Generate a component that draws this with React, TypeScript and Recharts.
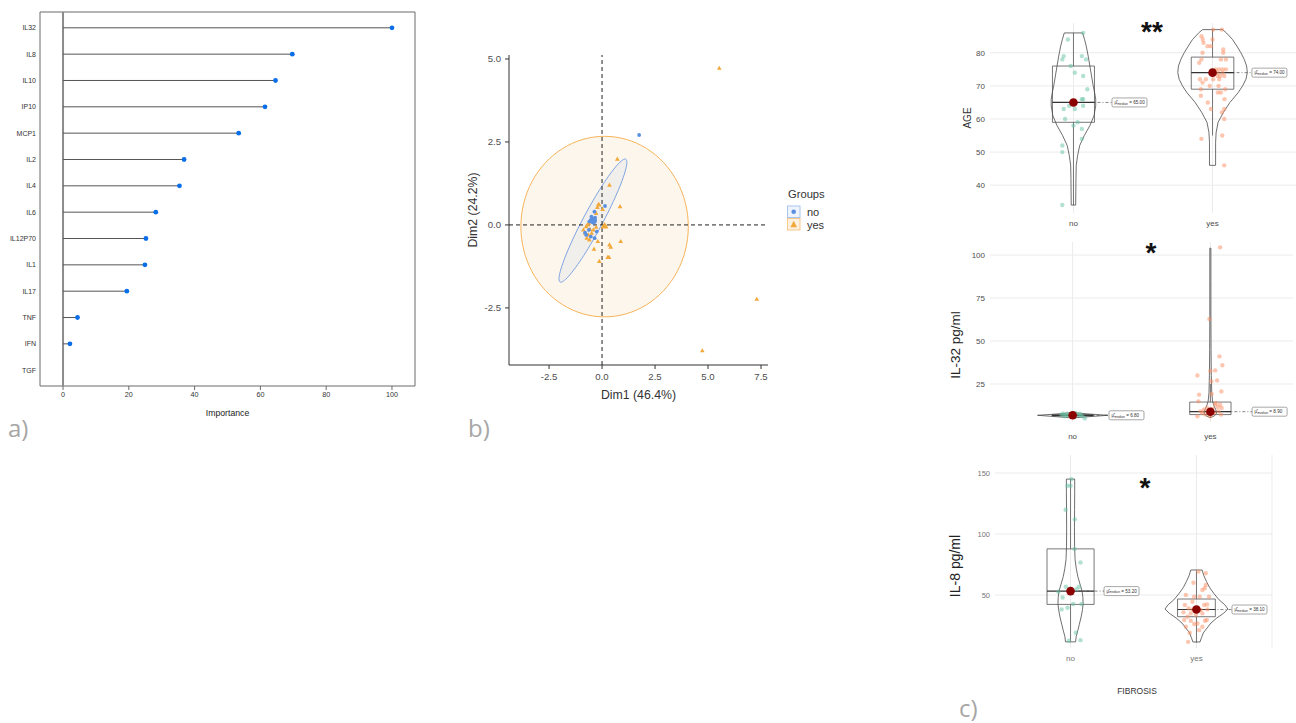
import React from 'react';
import { ComposedChart, Scatter, XAxis, YAxis, CartesianGrid, ReferenceLine, ReferenceArea, ReferenceDot } from 'recharts';

// a) variable importance
const features = ['IL32', 'IL8', 'IL10', 'IP10', 'MCP1', 'IL2', 'IL4', 'IL6', 'IL12P70', 'IL1', 'IL17', 'TNF', 'IFN', 'TGF'];
const importance = [100, 69.7, 64.6, 61.4, 53.4, 36.8, 35.4, 28.2, 25.2, 24.9, 19.4, 4.4, 2.1, 0];
const importanceTicks = [0, 20, 40, 60, 80, 100];

// b) PCA individuals
const pcaNo = [
  { x: 1.75, y: 2.71 }, { x: 0.14, y: 0.57 }, { x: -0.36, y: 0.4 }, { x: -0.44, y: 0.13 }, { x: -0.53, y: 0.15 },
  { x: -0.41, y: 0.07 }, { x: -0.6, y: 0.1 }, { x: -0.33, y: 0.22 }, { x: -0.5, y: 0.25 }, { x: -0.8, y: -0.23 },
  { x: -0.75, y: -0.3 }, { x: -0.53, y: -0.35 }, { x: -0.25, y: -0.2 }, { x: -0.35, y: -0.4 }, { x: -0.62, y: -0.15 },
];
const pcaYes = [
  { x: 5.53, y: 4.72 }, { x: 7.3, y: -2.24 }, { x: 4.73, y: -3.79 }, { x: 0.72, y: 1.98 }, { x: 0.35, y: 1.2 },
  { x: 0.85, y: 0.55 }, { x: 0.88, y: -0.5 }, { x: -0.38, y: -0.73 }, { x: -0.13, y: -1.1 }, { x: 0.27, y: -0.98 },
  { x: 0.33, y: -0.98 }, { x: 0.35, y: -0.6 }, { x: 0.41, y: -0.67 }, { x: -0.2, y: -0.5 }, { x: -0.13, y: 0.6 },
  { x: -0.22, y: 0.53 }, { x: -0.28, y: 0.35 }, { x: 0.03, y: 0.47 }, { x: -0.17, y: 0.62 }, { x: 0.11, y: -0.03 },
  { x: 0.05, y: -0.05 }, { x: 0.18, y: -0.05 }, { x: -0.75, y: -0.05 }, { x: -0.69, y: 0.0 }, { x: -0.88, y: -0.15 },
  { x: -0.8, y: -0.25 }, { x: -0.72, y: -0.4 }, { x: -0.65, y: -0.3 }, { x: -0.57, y: -0.13 }, { x: -0.49, y: -0.25 },
  { x: -0.41, y: -0.15 }, { x: -0.28, y: -0.07 }, { x: -0.62, y: 0.05 }, { x: -0.6, y: -0.45 },
];
const pcaNoMean = [{ x: -0.41, y: 0.13 }];
const pcaYesMean = [{ x: 0.12, y: -0.03 }];
// ellipse: centre, end of first semi-axis, end of second semi-axis
const ellipseNo = [{ x: -0.43, y: 0.13 }, { x: 1.12, y: 1.98 }, { x: -0.03, y: -0.01 }];
const ellipseYes = [{ x: 0.12, y: -0.05 }, { x: 4.07, y: -0.05 }, { x: 0.12, y: 2.67 }];
const dimDomainX = [-4.39, 7.83];
const dimDomainY = [-4.22, 5.12];
const dimTicksX = [-2.5, 0, 2.5, 5, 7.5];
const dimTicksY = [-2.5, 0, 2.5, 5];

// c) violins, FIBROSIS groups
const groups = ['no', 'yes'];

// box stats: [lower whisker, q1, median, q3, upper whisker]
const ageBoxes = [[34, 59, 65, 76, 86], [55, 69, 74, 78.7, 87]];
const ageViolinNo = [[34, 0.016], [38, 0.017], [42, 0.018], [46, 0.02], [49, 0.03], [52, 0.045], [55, 0.078], [58, 0.118], [61, 0.148], [64, 0.16], [66, 0.16], [68, 0.152], [70, 0.142], [73, 0.13], [76, 0.118], [79, 0.106], [82, 0.092], [84, 0.08], [86, 0.066]];
const ageViolinYes = [[46, 0.022], [50, 0.022], [53, 0.022], [56, 0.026], [59, 0.04], [62, 0.078], [65, 0.125], [68, 0.185], [70, 0.216], [72, 0.24], [74, 0.25], [76, 0.245], [78, 0.228], [80, 0.204], [82, 0.175], [84, 0.144], [86, 0.1], [87, 0.072]];
const agePointsNo = [
  { x: 1.07, y: 86 }, { x: 0.96, y: 84 }, { x: 0.93, y: 79 }, { x: 0.92, y: 78 }, { x: 1.06, y: 79 }, { x: 1.09, y: 78 },
  { x: 0.98, y: 76 }, { x: 1.01, y: 74 }, { x: 1.07, y: 73 }, { x: 1.1, y: 69 }, { x: 1.06, y: 66 }, { x: 1.07, y: 66 },
  { x: 0.97, y: 64 }, { x: 0.93, y: 63 }, { x: 1.01, y: 63 }, { x: 1.07, y: 64 }, { x: 0.94, y: 60 }, { x: 1.03, y: 59 },
  { x: 1.0, y: 58 }, { x: 1.06, y: 57 }, { x: 1.06, y: 54 }, { x: 0.92, y: 52 }, { x: 0.92, y: 50 }, { x: 0.92, y: 34 },
];
const agePointsYes = [
  { x: 2.005, y: 87 }, { x: 2.067, y: 87 }, { x: 1.92, y: 85 }, { x: 1.93, y: 84 }, { x: 2.0, y: 84 }, { x: 1.935, y: 83 },
  { x: 1.964, y: 82 }, { x: 1.988, y: 82 }, { x: 2.077, y: 81 }, { x: 2.077, y: 80 }, { x: 1.928, y: 80 }, { x: 1.92, y: 78 },
  { x: 1.904, y: 77 }, { x: 2.06, y: 78 }, { x: 2.096, y: 78 }, { x: 2.024, y: 75 }, { x: 2.048, y: 75 }, { x: 2.072, y: 75 },
  { x: 2.096, y: 75 }, { x: 2.036, y: 74 }, { x: 2.072, y: 74 }, { x: 2.036, y: 73 }, { x: 2.055, y: 73 }, { x: 2.084, y: 73 },
  { x: 1.909, y: 72 }, { x: 1.952, y: 72 }, { x: 2.005, y: 72 }, { x: 2.048, y: 72 }, { x: 1.928, y: 71 }, { x: 1.98, y: 70 },
  { x: 2.043, y: 70 }, { x: 1.916, y: 69 }, { x: 2.091, y: 69 }, { x: 2.038, y: 68 }, { x: 2.06, y: 68 }, { x: 1.916, y: 67 },
  { x: 2.086, y: 66 }, { x: 1.966, y: 65 }, { x: 1.988, y: 63 }, { x: 2.084, y: 63 }, { x: 2.067, y: 62 }, { x: 2.084, y: 60 },
  { x: 2.07, y: 55 }, { x: 1.92, y: 54 }, { x: 2.084, y: 46 },
];

const il32Boxes = [[5.6, 6.4, 6.8, 7.3, 8.0], [5.5, 7.2, 8.9, 14.5, 25]];
const il32ViolinNo = [[5.3, 0.01], [6.0, 0.12], [6.8, 0.255], [7.5, 0.12], [8.3, 0.01]];
const il32ViolinYes = [[5.5, 0.004], [6.5, 0.03], [8, 0.045], [10, 0.04], [12, 0.028], [15, 0.016], [20, 0.01], [30, 0.007], [45, 0.005], [65, 0.004], [85, 0.004], [104, 0.004]];
const il32PointsNo = [
  { x: 0.918, y: 7.2 }, { x: 0.941, y: 6.2 }, { x: 0.958, y: 7.8 }, { x: 0.976, y: 6.6 }, { x: 1.019, y: 8.1 },
  { x: 1.035, y: 7.0 }, { x: 1.052, y: 7.8 }, { x: 1.071, y: 6.2 }, { x: 1.089, y: 5.0 }, { x: 1.012, y: 5.8 },
  { x: 0.988, y: 7.4 }, { x: 0.929, y: 7.8 }, { x: 1.06, y: 6.8 }, { x: 0.95, y: 6.7 },
];
const il32PointsYes = [
  { x: 2.071, y: 104.5 }, { x: 1.993, y: 62.8 }, { x: 2.066, y: 41.1 }, { x: 2.087, y: 35.9 }, { x: 1.906, y: 30 },
  { x: 2.035, y: 32.9 }, { x: 2.0, y: 32.6 }, { x: 2.007, y: 26.6 }, { x: 2.049, y: 27.1 }, { x: 2.08, y: 20.7 },
  { x: 2.009, y: 19.2 }, { x: 1.918, y: 18.8 }, { x: 1.913, y: 14.9 }, { x: 2.082, y: 11 }, { x: 2.035, y: 13 },
  { x: 1.941, y: 8.1 }, { x: 1.906, y: 6.2 }, { x: 1.965, y: 7.2 }, { x: 2.059, y: 9.1 }, { x: 2.078, y: 7.2 },
  { x: 2.04, y: 14 }, { x: 1.976, y: 11 }, { x: 2.016, y: 10.5 }, { x: 1.953, y: 10 }, { x: 2.071, y: 13 },
  { x: 1.929, y: 9.1 }, { x: 2.0, y: 6.2 }, { x: 2.054, y: 11.6 }, { x: 2.026, y: 8.1 }, { x: 1.988, y: 9.1 },
];

const il8Boxes = [[12, 42.3, 53.2, 87.8, 145], [11, 32.2, 38.1, 46.7, 70]];
const il8ViolinNo = [[11.6, 0.04], [16, 0.045], [21, 0.058], [26, 0.07], [32, 0.084], [38, 0.095], [43, 0.1], [48, 0.098], [53, 0.092], [59, 0.075], [65, 0.058], [72, 0.045], [79, 0.036], [90, 0.032], [105, 0.031], [120, 0.032], [135, 0.033], [145, 0.033]];
const il8ViolinYes = [[11.5, 0.028], [15, 0.04], [19, 0.055], [23, 0.085], [27, 0.115], [31, 0.16], [35, 0.215], [38.5, 0.25], [42, 0.225], [46, 0.18], [51, 0.14], [56, 0.105], [61, 0.08], [66, 0.058], [70.5, 0.045]];
const il8PointsNo = [
  { x: 1.008, y: 145 }, { x: 0.974, y: 139.6 }, { x: 1.0, y: 139.6 }, { x: 0.961, y: 119.9 }, { x: 1.034, y: 112 },
  { x: 1.032, y: 87.8 }, { x: 1.079, y: 76.6 }, { x: 0.963, y: 56.8 }, { x: 1.068, y: 56.8 }, { x: 0.937, y: 48 },
  { x: 0.903, y: 52.7 }, { x: 0.929, y: 38.2 }, { x: 0.976, y: 39.6 }, { x: 1.021, y: 42.6 }, { x: 1.087, y: 42.6 },
  { x: 1.042, y: 19 }, { x: 1.079, y: 13 }, { x: 0.987, y: 12.5 }, { x: 1.047, y: 55 },
];
const il8PointsYes = [
  { x: 2.016, y: 69.2 }, { x: 2.074, y: 67.8 }, { x: 1.976, y: 60.1 }, { x: 2.074, y: 58.2 }, { x: 2.047, y: 54.1 },
  { x: 2.066, y: 55.5 }, { x: 2.026, y: 48.6 }, { x: 1.916, y: 50 }, { x: 2.1, y: 48.6 }, { x: 1.968, y: 44.5 },
  { x: 2.061, y: 41.8 }, { x: 2.084, y: 42.3 }, { x: 1.908, y: 41.8 }, { x: 1.937, y: 39 }, { x: 1.968, y: 38.2 },
  { x: 2.034, y: 37.7 }, { x: 2.087, y: 38.2 }, { x: 1.897, y: 35.8 }, { x: 1.955, y: 34.9 }, { x: 2.047, y: 34.9 },
  { x: 1.995, y: 33.6 }, { x: 1.903, y: 29.5 }, { x: 1.955, y: 28.9 }, { x: 2.068, y: 28.9 }, { x: 2.082, y: 29.5 },
  { x: 1.982, y: 26.2 }, { x: 1.916, y: 24 }, { x: 2.021, y: 21.2 }, { x: 1.947, y: 19 }, { x: 1.934, y: 11.6 },
  { x: 1.929, y: 32.2 }, { x: 1.982, y: 48.6 }, { x: 2.008, y: 26.7 }, { x: 2.047, y: 24 },
];

const NO_COLOR = '#66c2a5';
const YES_COLOR = '#fc8d62';

const noShape = () => <g />;

const dotShape = (r: number, fill: string, opacity = 1) => (p: any) => (
  <circle cx={p.cx} cy={p.cy} r={r} fill={fill} fillOpacity={opacity} />
);

const triShape = (s: number, fill: string) => (p: any) => (
  <path d={`M${p.cx},${p.cy - s}L${p.cx + s * 0.9},${p.cy + s * 0.6}L${p.cx - s * 0.9},${p.cy + s * 0.6}Z`} fill={fill} />
);

// draws the ellipse spanned by the two semi-axes, in pixel space
const ellipsePath = (stroke: string, fill: string, fillOpacity: number) => (props: any) => {
  const [c, a, b] = props.points;
  const pts: string[] = [];
  for (let i = 0; i <= 96; i++) {
    const t = (i / 96) * Math.PI * 2;
    const x = c.x + Math.cos(t) * (a.x - c.x) + Math.sin(t) * (b.x - c.x);
    const y = c.y + Math.cos(t) * (a.y - c.y) + Math.sin(t) * (b.y - c.y);
    pts.push(`${x.toFixed(2)},${y.toFixed(2)}`);
  }
  return <path d={`M${pts.join('L')}Z`} stroke={stroke} strokeWidth={1} fill={fill} fillOpacity={fillOpacity} />;
};

const closedPath = (props: any) => (
  <path
    d={'M' + props.points.map((q: any) => `${q.x},${q.y}`).join('L') + 'Z'}
    fill="none"
    stroke="#4a4a4a"
    strokeWidth={0.8}
  />
);

const violinOutline = (cat: number, levels: number[][]) => [
  ...levels.map(([y, w]) => ({ x: cat - w, y })),
  ...[...levels].reverse().map(([y, w]) => ({ x: cat + w, y })),
];

const medianTag = (value: number) => (p: any) => (
  <g>
    <rect x={p.cx} y={p.cy - 4.5} width={35} height={9} rx={1.5} fill="#fff" stroke="#6b6b6b" strokeWidth={0.6} />
    <text x={p.cx + 2.5} y={p.cy + 1.6} fontSize={4.6} fill="#333">
      {'\u03bc\u0302'}
      <tspan fontSize={3.3} dy={0.8}>median</tspan>
      <tspan dy={-0.8}>{` = ${value.toFixed(2)}`}</tspan>
    </text>
  </g>
);

function ImportancePanel() {
  const rows = features.map((f, i) => ({ x: importance[i], y: i + 1 }));
  const ranks = features.map((f, i) => i + 1);
  return (
    <div style={{ position: 'absolute', left: 0, top: 0 }}>
      <ComposedChart width={430} height={420} margin={{ top: 0, right: 15, bottom: 0, left: 0 }}>
        <XAxis xAxisId="top" orientation="top" type="number" domain={[-7, 107]} ticks={importanceTicks}
          tickFormatter={() => ''} axisLine={false} tickLine={{ stroke: '#6b6b6b' }} tickSize={4} height={12} allowDataOverflow />
        <XAxis type="number" dataKey="x" domain={[-7, 107]} ticks={importanceTicks} axisLine={false}
          tickLine={{ stroke: '#6b6b6b' }} tickSize={4} tickMargin={2} height={34}
          tick={{ fontSize: 7.2, fill: '#333' }} allowDataOverflow
          label={{ value: 'Importance', position: 'insideBottom', offset: 4, fontSize: 8.7, fill: '#222' }} />
        <YAxis type="number" dataKey="y" domain={[0.4, 14.6]} reversed ticks={ranks}
          tickFormatter={(v: number) => features[v - 1]} width={40} axisLine={false} tickLine={false}
          tickSize={2} tickMargin={2} interval={0} tick={{ fontSize: 7, fill: '#333' }} allowDataOverflow />
        <ReferenceArea x1={-7} x2={107} y1={0.4} y2={14.6} fill="none" stroke="#6b6b6b" strokeWidth={1} ifOverflow="visible" />
        <ReferenceLine x={0} stroke="#8c8c8c" strokeWidth={2} />
        {rows.map((r) => (
          <ReferenceLine key={r.y} segment={[{ x: 0, y: r.y }, { x: r.x, y: r.y }]} stroke="#555" strokeWidth={1} />
        ))}
        <Scatter data={rows.filter((r) => r.x > 0)} shape={dotShape(2.4, '#0a6ee8')} isAnimationActive={false} />
      </ComposedChart>
    </div>
  );
}

function PcaPanel() {
  // the dashed zero lines are drawn as series so they sit above the ellipses
  const zeroV = [{ x: 0, y: dimDomainY[0] }, { x: 0, y: dimDomainY[1] }];
  const zeroH = [{ x: dimDomainX[0], y: 0 }, { x: dimDomainX[1], y: 0 }];
  const dashed = { stroke: '#222', strokeWidth: 1, strokeDasharray: '4 3', fill: 'none' };
  return (
    <div style={{ position: 'absolute', left: 460, top: 40 }}>
      <ComposedChart width={400} height={370} margin={{ top: 15, right: 92, bottom: 0, left: 0 }}>
        <XAxis type="number" dataKey="x" domain={dimDomainX} ticks={dimTicksX} tickFormatter={(v: number) => v.toFixed(1)}
          height={45} stroke="#333" tickSize={4} tickMargin={4} tick={{ fontSize: 9.6, fill: '#4d4d4d' }} allowDataOverflow
          label={{ value: 'Dim1 (46.4%)', position: 'insideBottom', offset: 11, fontSize: 12.3, fill: '#333' }} />
        <YAxis type="number" dataKey="y" domain={dimDomainY} ticks={dimTicksY} tickFormatter={(v: number) => v.toFixed(1)}
          width={49} stroke="#333" tickSize={4} tickMargin={4} tick={{ fontSize: 9.6, fill: '#4d4d4d' }} allowDataOverflow
          label={{ value: 'Dim2 (24.2%)', angle: -90, position: 'insideLeft', offset: 13, fontSize: 12.3, fill: '#333', style: { textAnchor: 'middle' } }} />
        <Scatter data={ellipseYes} shape={noShape} line={ellipsePath('#f6b45a', '#fdf5ea', 0.9)} isAnimationActive={false} />
        <Scatter data={ellipseNo} shape={noShape} line={ellipsePath('#7fa4e2', '#ececec', 0.75)} isAnimationActive={false} />
        <Scatter data={zeroV} shape={noShape} line={dashed} isAnimationActive={false} />
        <Scatter data={zeroH} shape={noShape} line={dashed} isAnimationActive={false} />
        <Scatter data={pcaYes} shape={triShape(2.6, '#f2a93b')} isAnimationActive={false} />
        <Scatter data={pcaNo} shape={dotShape(1.9, '#5b8fe0')} isAnimationActive={false} />
        <Scatter data={pcaYesMean} shape={triShape(4, '#f2a93b')} isAnimationActive={false} />
        <Scatter data={pcaNoMean} shape={dotShape(3.6, '#5b8fe0')} isAnimationActive={false} />
      </ComposedChart>
    </div>
  );
}

function ViolinPanel(p: any) {
  const outlines = p.violins.map((lv: number[][], i: number) => violinOutline(i + 1, lv));
  const medians = p.boxes.map((b: number[], i: number) => ({ x: i + 1, y: b[2] }));
  return (
    <div style={{ position: 'absolute', left: p.left, top: p.top }}>
      <ComposedChart width={p.width} height={p.height} margin={p.margin}>
        <CartesianGrid stroke="#ebebeb" strokeWidth={1} horizontalValues={p.ticks} verticalValues={p.gridX} />
        <XAxis type="number" dataKey="x" domain={[0.4, 2.6]} ticks={[1, 2]} tickFormatter={(v: number) => groups[v - 1]}
          axisLine={false} tickLine={false} tickSize={0} tickMargin={p.xTickMargin} height={p.xAxisHeight}
          tick={{ fontSize: 8, fill: p.tickFill }} allowDataOverflow />
        <YAxis type="number" dataKey="y" domain={p.domain} ticks={p.ticks} axisLine={false} tickLine={false}
          tickSize={0} tickMargin={5} width={p.yAxisWidth} tick={{ fontSize: p.tickSize, fill: p.tickFill }} allowDataOverflow />
        {outlines.map((o: any, i: number) => (
          <Scatter key={'v' + i} data={o} shape={noShape} line={closedPath} isAnimationActive={false} />
        ))}
        {p.boxes.map((b: number[], i: number) => (
          <ReferenceArea key={'b' + i} x1={i + 1 - p.boxHalf[i]} x2={i + 1 + p.boxHalf[i]} y1={b[1]} y2={b[3]}
            fill="none" stroke="#555" strokeWidth={0.8} fillOpacity={0} />
        ))}
        {p.boxes.map((b: number[], i: number) => (
          <ReferenceLine key={'wu' + i} segment={[{ x: i + 1, y: b[3] }, { x: i + 1, y: b[4] }]} stroke="#555" strokeWidth={0.8} />
        ))}
        {p.boxes.map((b: number[], i: number) => (
          <ReferenceLine key={'wl' + i} segment={[{ x: i + 1, y: b[0] }, { x: i + 1, y: b[1] }]} stroke="#555" strokeWidth={0.8} />
        ))}
        <Scatter data={p.points[0]} shape={dotShape(2.2, NO_COLOR, 0.5)} isAnimationActive={false} />
        <Scatter data={p.points[1]} shape={dotShape(2.2, YES_COLOR, 0.5)} isAnimationActive={false} />
        {p.boxes.map((b: number[], i: number) => (
          <ReferenceLine key={'m' + i} segment={[{ x: i + 1 - p.boxHalf[i], y: b[2] }, { x: i + 1 + p.boxHalf[i], y: b[2] }]}
            stroke="#333" strokeWidth={1.2} />
        ))}
        {p.boxes.map((b: number[], i: number) => (
          <ReferenceLine key={'c' + i} segment={[{ x: i + 1, y: b[2] }, { x: p.labelX[i], y: b[2] }]}
            stroke="#333" strokeWidth={0.6} strokeDasharray="3 2 1 2" />
        ))}
        <Scatter data={medians} shape={dotShape(4.3, '#8b0000')} isAnimationActive={false} />
        {p.boxes.map((b: number[], i: number) => (
          <ReferenceDot key={'t' + i} x={p.labelX[i]} y={b[2]} r={0} shape={medianTag(b[2])} />
        ))}
      </ComposedChart>
    </div>
  );
}

function Annotations() {
  const letter = { fontSize: 24, fill: '#a6a6a6', fontFamily: 'Open Sans, Liberation Sans, sans-serif' };
  const star = { fontSize: 28, fill: '#111', fontWeight: 700, textAnchor: 'middle' as const };
  return (
    <svg width={1296} height={723} style={{ position: 'absolute', left: 0, top: 0, pointerEvents: 'none' }}>
      <text x={8} y={437} {...letter}>a)</text>
      <text x={468} y={437} {...letter}>b)</text>
      <text x={959} y={717} {...letter}>c)</text>

      <text x={788} y={198} fontSize={11.2} fill="#333">Groups</text>
      <rect x={787.5} y={206} width={12.5} height={11.5} fill="#eef3fc" stroke="#a9c4ef" strokeWidth={1} />
      <circle cx={793.7} cy={211.8} r={2.3} fill="#5b8fe0" />
      <rect x={787.5} y={218.5} width={12.5} height={11.5} fill="#fdf1e0" stroke="#f7c98a" strokeWidth={1} />
      <path d="M793.7,220.8L797.1,227.2L790.3,227.2Z" fill="#f2a93b" />
      <text x={807} y={216} fontSize={11} fill="#333">no</text>
      <text x={807} y={228.5} fontSize={11} fill="#333">yes</text>

      <text x={1152} y={41} {...star}>**</text>
      <text x={1151} y={262} {...star}>*</text>
      <text x={1145} y={497} {...star}>*</text>

      <text transform="translate(967,118) rotate(-90)" textAnchor="middle" dominantBaseline="central" fontSize={10} fill="#333">AGE</text>
      <text transform="translate(955,345) rotate(-90)" textAnchor="middle" dominantBaseline="central" fontSize={13.5} fill="#222">IL-32 pg/ml</text>
      <text transform="translate(955,566) rotate(-90)" textAnchor="middle" dominantBaseline="central" fontSize={14} fill="#222">IL-8 pg/ml</text>
      <text x={1137} y={694} textAnchor="middle" fontSize={8.5} fill="#333">FIBROSIS</text>
    </svg>
  );
}

export default function App() {
  return (
    <div style={{ position: 'absolute', left: 0, top: 0, width: 1296, height: 723, background: '#fff', overflow: 'hidden', fontFamily: 'Liberation Sans, Arial, sans-serif' }}>
      <ImportancePanel />
      <PcaPanel />
      <ViolinPanel
        left={940} top={0} width={356} height={240} margin={{ top: 23, right: 0, bottom: 0, left: 0 }}
        yAxisWidth={50} xAxisHeight={27} xTickMargin={7} domain={[31.6, 89]} ticks={[40, 50, 60, 70, 80]} gridX={[1, 2]}
        tickSize={8} tickFill="#4d4d4d"
        boxes={ageBoxes} violins={[ageViolinNo, ageViolinYes]} points={[agePointsNo, agePointsYes]}
        boxHalf={[0.151, 0.153]} labelX={[1.277, 2.283]}
      />
      <ViolinPanel
        left={940} top={230} width={356} height={215} margin={{ top: 12, right: 3, bottom: 0, left: 0 }}
        yAxisWidth={50} xAxisHeight={23} xTickMargin={11} domain={[2.9, 107.6]} ticks={[25, 50, 75, 100]} gridX={[1, 2]}
        tickSize={8} tickFill="#4d4d4d"
        boxes={il32Boxes} violins={[il32ViolinNo, il32ViolinYes]} points={[il32PointsNo, il32PointsYes]}
        boxHalf={[0.15, 0.15]} labelX={[1.264, 2.303]}
      />
      <ViolinPanel
        left={940} top={440} width={356} height={228} margin={{ top: 15, right: 24, bottom: 0, left: 0 }}
        yAxisWidth={55} xAxisHeight={20} xTickMargin={7} domain={[6.56, 164.75]} ticks={[50, 100, 150]} gridX={[1, 2, 2.6]}
        tickSize={7.5} tickFill="#777"
        boxes={il8Boxes} violins={[il8ViolinNo, il8ViolinYes]} points={[il8PointsNo, il8PointsYes]}
        boxHalf={[0.187, 0.15]} labelX={[1.266, 2.282]}
      />
      <Annotations />
    </div>
  );
}
